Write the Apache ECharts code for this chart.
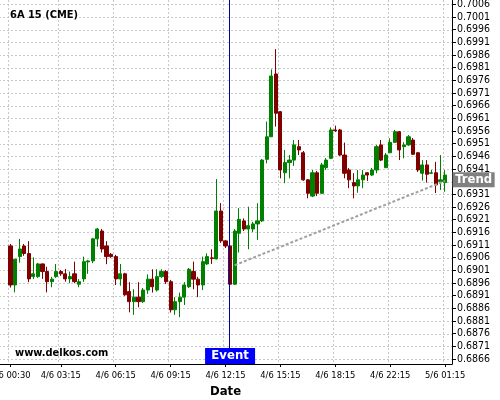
<!DOCTYPE html>
<html><head><meta charset="utf-8">
<script src="https://cdn.jsdelivr.net/npm/echarts@6/dist/echarts.min.js"></script>
<style>html,body{margin:0;padding:0;background:#fff}#c{width:500px;height:400px}</style>
</head><body><div id="c"></div>
<script>
// ---- data (15-minute bars, 6A CME) ----
const openV  = [0.69106,0.68952,0.69064,0.69106,0.69076,0.68985,0.68985,0.69035,0.69005,0.68965,
                0.68985,0.69005,0.68996,0.68976,0.68996,0.68955,0.68976,0.69043,0.69047,0.69134,
                0.69165,0.69106,0.69073,0.69064,0.68976,0.68996,0.68926,0.68886,0.68904,0.68886,
                0.68932,0.68975,0.68932,0.68985,0.69005,0.68965,0.68854,0.68886,0.68904,0.68945,
                0.69005,0.68975,0.68952,0.69035,0.69059,0.69055,0.69244,0.69126,0.69106,0.68955,
                0.69156,0.69205,0.69173,0.69173,0.69193,0.69205,0.69448,0.69537,0.69785,0.69636,
                0.69395,0.69435,0.69445,0.69498,0.69474,0.69367,0.69303,0.69395,0.69314,0.69415,
                0.69452,0.69564,0.69564,0.69465,0.69406,0.69356,0.69343,0.69367,0.69395,0.69386,
                0.69406,0.69505,0.69415,0.69474,0.69515,0.69557,0.69498,0.69505,0.69524,0.69474,
                0.69393,0.69426,0.69393,0.69395,0.69360,0.69356];
const closeV = [0.68952,0.69054,0.69094,0.69076,0.68976,0.68996,0.69035,0.69005,0.68965,0.68975,
                0.69005,0.68996,0.68976,0.68985,0.68965,0.68965,0.69044,0.69047,0.69134,0.69173,
                0.69094,0.69064,0.69064,0.68976,0.68996,0.68913,0.68886,0.68904,0.68886,0.68932,
                0.68975,0.68945,0.68985,0.69005,0.68965,0.68854,0.68886,0.68904,0.68952,0.69014,
                0.68975,0.68952,0.69044,0.69064,0.69056,0.69244,0.69126,0.69106,0.68955,0.69165,
                0.69211,0.69173,0.69186,0.69193,0.69205,0.69445,0.69537,0.69777,0.69630,0.69406,
                0.69435,0.69445,0.69505,0.69485,0.69367,0.69314,0.69395,0.69314,0.69426,0.69445,
                0.69564,0.69561,0.69465,0.69393,0.69367,0.69343,0.69367,0.69386,0.69386,0.69406,
                0.69498,0.69445,0.69465,0.69515,0.69557,0.69485,0.69505,0.69537,0.69468,0.69406,
                0.69426,0.69389,0.69395,0.69347,0.69367,0.69386];
const highV  = [0.69114,0.69054,0.69134,0.69114,0.69125,0.69061,0.69039,0.69037,0.69024,0.68984,
                0.69035,0.69011,0.69015,0.69005,0.69044,0.68975,0.69064,0.69051,0.69138,0.69177,
                0.69173,0.69125,0.69078,0.69071,0.69035,0.69000,0.68963,0.68935,0.68963,0.68940,
                0.68994,0.69014,0.69014,0.69014,0.69011,0.68972,0.68904,0.68922,0.68963,0.69019,
                0.69044,0.68984,0.69064,0.69077,0.69093,0.69370,0.69275,0.69130,0.69106,0.69173,
                0.69255,0.69215,0.69261,0.69201,0.69275,0.69449,0.69597,0.69803,0.69883,0.69639,
                0.69485,0.69465,0.69524,0.69524,0.69481,0.69370,0.69406,0.69402,0.69434,0.69453,
                0.69574,0.69581,0.69568,0.69514,0.69414,0.69393,0.69406,0.69406,0.69398,0.69414,
                0.69505,0.69524,0.69473,0.69531,0.69564,0.69560,0.69516,0.69544,0.69532,0.69477,
                0.69445,0.69445,0.69406,0.69438,0.69465,0.69406];
const lowV   = [0.68942,0.68923,0.69040,0.69067,0.68963,0.68975,0.68980,0.68976,0.68923,0.68943,
                0.68980,0.68988,0.68965,0.68959,0.68959,0.68943,0.68964,0.68996,0.69038,0.69103,
                0.69080,0.69034,0.69059,0.68952,0.68949,0.68909,0.68844,0.68834,0.68864,0.68881,
                0.68917,0.68922,0.68926,0.68980,0.68956,0.68843,0.68834,0.68825,0.68873,0.68940,
                0.68935,0.68904,0.68932,0.69031,0.69035,0.69053,0.69118,0.69098,0.68955,0.68952,
                0.69080,0.69165,0.69093,0.69161,0.69130,0.69201,0.69432,0.69536,0.69577,0.69373,
                0.69354,0.69373,0.69422,0.69465,0.69363,0.69294,0.69299,0.69303,0.69311,0.69406,
                0.69449,0.69556,0.69461,0.69373,0.69334,0.69294,0.69316,0.69334,0.69363,0.69382,
                0.69393,0.69441,0.69414,0.69473,0.69513,0.69445,0.69452,0.69501,0.69465,0.69398,
                0.69364,0.69356,0.69390,0.69315,0.69327,0.69320];
const xTickIdx    = [0, 11, 23, 35, 47, 59, 71, 83, 95];
const xTickLabels = ['4/6 00:30','4/6 03:15','4/6 06:15','4/6 09:15','4/6 12:15','4/6 15:15','4/6 18:15','4/6 22:15','5/6 01:15'];
const yTicks = [0.6866,0.6871,0.6876,0.6881,0.6886,0.6891,0.6896,0.6901,0.6906,0.6911,0.6916,0.6921,0.6926,0.6931,
                0.6936,0.6941,0.6946,0.6951,0.6956,0.6961,0.6966,0.6971,0.6976,0.6981,0.6986,0.6991,0.6996,0.7001,0.7006];
const yMin = 0.6864, yMax = 0.70077;
const eventIdx = 48;
const trendIdx = [49, 95];
const trendVal = [0.69030, 0.69363];
const titleText = '6A 15 (CME)';
const sourceText = 'www.delkos.com';

// ---- build ----
const PADL = 2, PADR = 1, N = openV.length;
const cats = [];
for (let i = -PADL; i < N + PADR; i++) cats.push('b' + i);
const labelMap = {};
xTickIdx.forEach((k, j) => { labelMap['b' + k] = xTickLabels[j]; });
const showTick = (idx, val) => labelMap[val] !== undefined;
const candle = openV.map((o, i) => ['b' + i, o, closeV[i], lowV[i], highV[i]]);
const trend = trendIdx.map((k, j) => ['b' + k, trendVal[j]]);

const FONT = 'DejaVu Sans Condensed, DejaVu Sans, sans-serif';
const GRID = {color: '#c8c8c8', type: [2, 2], width: 1};
const crisp = v => Math.round(v) + 0.5;
const chart = echarts.init(document.getElementById('c'), null, {renderer: 'canvas'});
chart.setOption({
  animation: false,
  backgroundColor: '#fff',
  title: [
    {text: titleText, left: 10, top: 10, padding: 0, textStyle: {fontFamily: FONT, fontWeight: 'bold', fontSize: 11, color: '#000'}},
    {text: sourceText, left: 15, top: 348, padding: 0, textStyle: {fontFamily: FONT, fontWeight: 'bold', fontSize: 11, color: '#000'}}
  ],
  grid: {left: -1, right: 48, top: 0, bottom: 36, containLabel: false, outerBoundsMode: 'none'},
  xAxis: {
    type: 'category', data: cats, boundaryGap: true,
    axisLine: {lineStyle: {color: '#000', width: 1}},
    axisTick: {show: true, interval: showTick, alignWithLabel: true, length: 3, lineStyle: {color: '#000'}},
    axisLabel: {interval: showTick, formatter: v => labelMap[v] || '', fontFamily: FONT, fontSize: 9.3, color: '#000', margin: 7, hideOverlap: false},
    splitLine: {show: true, interval: showTick, lineStyle: GRID},
    name: 'Date', nameLocation: 'middle', nameGap: 21,
    nameTextStyle: {fontFamily: FONT, fontWeight: 'bold', fontSize: 13, color: '#000'}
  },
  yAxis: {
    type: 'value', position: 'right', min: yMin, max: yMax, scale: true,
    axisLine: {show: true, lineStyle: {color: '#000', width: 1}},
    axisTick: {show: true, length: 4, customValues: yTicks, lineStyle: {color: '#000'}},
    axisLabel: {customValues: yTicks, formatter: v => v.toFixed(4), fontFamily: FONT, fontSize: 10.5, color: '#000', margin: 5},
    splitLine: {show: false}
  },
  series: [
    {
      // horizontal grid lines at the tick values
      type: 'custom', silent: true, z: 0, clip: false,
      data: yTicks.map(v => ['b0', v]), encode: {x: 0, y: 1},
      renderItem: (params, api) => {
        const cs = params.coordSys;
        const y = crisp(api.coord([api.value(0), api.value(1)])[1]);
        return {type: 'line', silent: true,
          shape: {x1: cs.x, y1: y, x2: cs.x + cs.width, y2: y},
          style: {stroke: '#c8c8c8', lineWidth: 1, lineDash: [2, 2]}};
      }
    },
    {
      type: 'candlestick', data: candle, encode: {x: 0, y: [1, 2, 3, 4]},
      barWidth: '80%', z: 2,
      itemStyle: {color: '#008000', color0: '#800000', borderColor: '#008000', borderColor0: '#800000', borderWidth: 1},
      markPoint: {
        silent: true, animation: false,
        data: [{coord: ['b' + eventIdx, yMin], symbol: 'rect', symbolSize: [50, 16], symbolOffset: [0, -8],
          itemStyle: {color: '#0000ff'},
          label: {show: true, position: 'inside', formatter: 'Event', color: '#fff', fontFamily: FONT, fontWeight: 'bold', fontSize: 13}}]
      }
    },
    {
      // event vertical line
      type: 'custom', silent: true, z: 3, clip: false,
      data: [['b' + eventIdx, yMin]], encode: {x: 0, y: 1},
      renderItem: (params, api) => {
        const cs = params.coordSys;
        const x = crisp(api.coord([api.value(0), api.value(1)])[0]) - 1;
        return {type: 'line', silent: true,
          shape: {x1: x, y1: cs.y, x2: x, y2: cs.y + cs.height},
          style: {stroke: '#0000b0', lineWidth: 1}};
      }
    },
    {
      type: 'line', data: trend, connectNulls: true, symbol: 'none', silent: true,
      lineStyle: {color: '#a0a0a0', width: 2, type: [3, 2]},
      z: 4,
      markPoint: {
        silent: true, animation: false,
        data: [{coord: ['b' + trendIdx[1], trendVal[1]], symbol: 'rect', symbolSize: [42, 15], symbolOffset: [28.5, -1],
          itemStyle: {color: '#808080'},
          label: {show: true, position: 'inside', formatter: 'Trend', color: '#fff', fontFamily: FONT, fontWeight: 'bold', fontSize: 13}}]
      }
    }
  ]
});
</script>
</body></html>
